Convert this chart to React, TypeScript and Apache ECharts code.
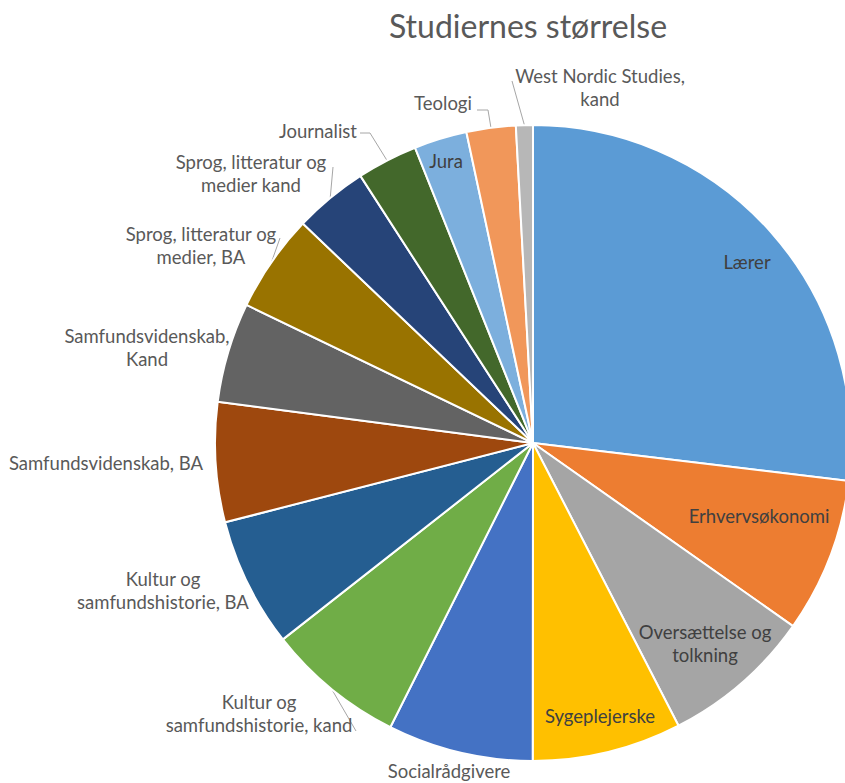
import React, { useEffect, useRef } from "react";
import * as echarts from "echarts";

// ---- data ----
const titleText = "Studiernes størrelse";
const categories = [
  "Lærer",
  "Erhvervsøkonomi",
  "Oversættelse og\ntolkning",
  "Sygeplejerske",
  "Socialrådgivere",
  "Kultur og\nsamfundshistorie, kand",
  "Kultur og\nsamfundshistorie, BA",
  "Samfundsvidenskab, BA",
  "Samfundsvidenskab,\nKand",
  "Sprog, litteratur og\nmedier, BA",
  "Sprog, litteratur og\nmedier kand",
  "Journalist",
  "Jura",
  "Teologi",
  "West Nordic Studies,\nkand",
];
const shares = [26.9, 7.86, 7.67, 7.58, 7.39, 7.0, 6.58, 6.08, 5.08, 4.97, 3.75, 3.08, 2.69, 2.5, 0.86];

// ---- styles ----
const colors = [
  "#5B9BD5", "#ED7D31", "#A5A5A5", "#FFC000", "#4472C4", "#70AD47", "#255E91",
  "#9E480E", "#636363", "#997300", "#264478", "#43682B", "#7CAFDD", "#F1975A", "#B7B7B7",
];
const insideLabel = [true, true, true, true, false, false, false, false, false, false, false, false, true, false, false];
// label centres in page pixels
const labelPos: number[][] = [
  [747, 262], [759, 516], [705, 643], [600, 716], [449, 771], [259, 713], [163, 590],
  [106, 463], [147, 347], [201, 245], [251, 173], [318, 131], [446, 161], [443, 103], [600, 87],
];
// leader-line points after the slice edge (null = no leader line)
const leaderPts: (number[][] | null)[] = [
  null, null, null, null, null,
  [[356, 731]],
  null, null, null,
  [[280, 238]],
  [[333, 167]],
  [[370, 133], [360, 133]],
  null,
  [[488, 110], [477, 110]],
  [[512, 81]],
];
const CX = 533;
const CY = 443;
const R = 318;
const FONT = "Lato, 'Noto Sans', sans-serif";

export default function App() {
  const ref = useRef<HTMLDivElement>(null);
  useEffect(() => {
    if (!ref.current) return;
    const chart = echarts.init(ref.current, undefined, { renderer: "svg" });
    const total = shares.reduce((a, b) => a + b, 0);
    const midAngles: number[] = [];
    let acc = 0;
    shares.forEach((v) => {
      midAngles.push(((acc + v / 2) / total) * 2 * Math.PI);
      acc += v;
    });
    const data = categories.map((name, i) => ({
      name,
      value: shares[i],
      itemStyle: { color: colors[i] },
      label: { color: insideLabel[i] ? "#404040" : "#595959" },
      labelLine: { show: !!leaderPts[i] },
    }));
    chart.setOption({
      animation: false,
      title: {
        text: titleText,
        left: 523,
        top: 4,
        textAlign: "center",
        textStyle: { fontFamily: FONT, fontSize: 32, fontWeight: "normal", color: "#595959" },
      },
      series: [
        {
          type: "pie",
          center: [CX, CY],
          radius: [0, R],
          startAngle: 90,
          clockwise: true,
          avoidLabelOverlap: false,
          silent: true,
          itemStyle: { borderColor: "#ffffff", borderWidth: 2 },
          label: {
            show: true,
            position: "outside",
            overflow: "none",
            fontFamily: FONT,
            fontSize: 18.5,
            lineHeight: 23,
            align: "center",
          },
          labelLine: {
            show: true,
            length: 5,
            length2: 5,
            lineStyle: { color: "#A6A6A6", width: 1 },
          },
          labelLayout: (params: any) => {
            const i = params.dataIndex;
            const p = labelPos[i];
            const res: any = { x: p[0], y: p[1], align: "center", verticalAlign: "middle" };
            const lp = leaderPts[i];
            if (lp) {
              const a = midAngles[i];
              const edge = [CX + R * Math.sin(a), CY - R * Math.cos(a)];
              res.labelLinePoints = [edge, ...lp];
            }
            return res;
          },
          data,
        },
      ],
    });
    return () => chart.dispose();
  }, []);
  return (
    <div
      ref={ref}
      style={{ position: "fixed", left: 0, top: 0, width: 845, height: 783, background: "#ffffff" }}
    />
  );
}
